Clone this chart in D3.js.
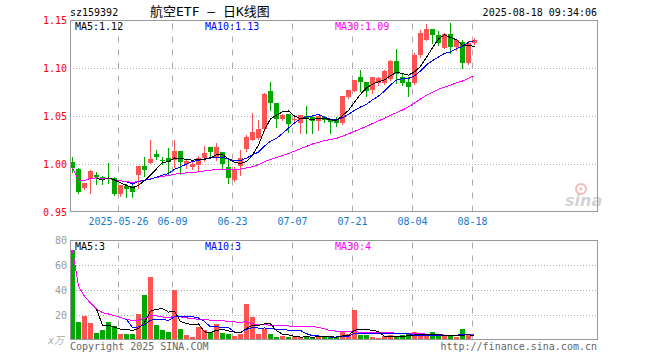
<!DOCTYPE html>
<html><head><meta charset="utf-8">
<script src="https://cdn.jsdelivr.net/npm/d3@7"></script>
<style>
body{margin:0;background:#fff}
svg{display:block}
text{font-family:"DejaVu Sans Mono",monospace;font-size:10px}
</style>
</head><body>
<svg id="c" width="660" height="360"></svg>
<script>
// ---------- data ----------
const dates = [
"2025-05-14","2025-05-15","2025-05-16","2025-05-19","2025-05-20","2025-05-21","2025-05-22","2025-05-23",
"2025-05-26","2025-05-27","2025-05-28","2025-05-29","2025-05-30","2025-06-03","2025-06-04","2025-06-05","2025-06-06",
"2025-06-09","2025-06-10","2025-06-11","2025-06-12","2025-06-13","2025-06-16","2025-06-17","2025-06-18","2025-06-19","2025-06-20",
"2025-06-23","2025-06-24","2025-06-25","2025-06-26","2025-06-27","2025-06-30","2025-07-01","2025-07-02","2025-07-03","2025-07-04",
"2025-07-07","2025-07-08","2025-07-09","2025-07-10","2025-07-11","2025-07-14","2025-07-15","2025-07-16","2025-07-17","2025-07-18",
"2025-07-21","2025-07-22","2025-07-23","2025-07-24","2025-07-25","2025-07-28","2025-07-29","2025-07-30","2025-07-31","2025-08-01",
"2025-08-04","2025-08-05","2025-08-06","2025-08-07","2025-08-08","2025-08-11","2025-08-12","2025-08-13","2025-08-14","2025-08-15",
"2025-08-18"];
const opens = [1.002,0.995,0.9757,0.9844,0.989,0.987,0.986,0.986,0.969,0.977,0.9774,0.9889,0.998,1.001,1.011,1.0047,1.007,1.0045,1.0139,1.000,
0.997,0.9993,1.007,1.018,1.008,1.0125,0.9976,0.9837,0.9986,1.0156,1.025,1.027,1.0364,1.0763,1.0638,1.0468,1.0524,1.046,1.0427,1.0507,
1.049,1.0451,1.0496,1.047,1.046,1.0427,1.0698,1.0763,1.0906,1.0857,1.0774,1.0843,1.085,1.0885,1.108,1.0906,1.086,1.0843,1.114,1.130,
1.141,1.135,1.1215,1.136,1.1225,1.1278,1.105,1.1267];
const closes = [0.996,0.9715,0.981,0.9934,0.987,0.984,0.985,0.969,0.978,0.974,0.9715,0.998,0.994,1.0056,1.0075,1.0042,1.002,1.0139,1.0025,1.003,
1.000,1.007,1.012,1.013,1.018,1.000,0.9854,0.994,1.0065,1.028,1.034,1.037,1.0732,1.0642,1.0472,1.0514,1.0416,1.047,1.051,1.0472,
1.045,1.0503,1.046,1.0437,1.0427,1.0711,1.0774,1.0878,1.0857,1.0763,1.0906,1.0895,1.0972,1.108,1.094,1.0843,1.081,1.114,1.1365,1.141,
1.135,1.126,1.136,1.1225,1.129,1.106,1.126,1.1295];
const highs = [1.008,0.996,0.981,0.994,0.992,0.988,1.001,0.987,0.978,0.979,0.980,0.998,1.008,1.025,1.015,1.008,1.017,1.025,1.014,1.006,
1.002,1.009,1.019,1.018,1.022,1.013,1.006,0.997,1.015,1.031,1.053,1.046,1.074,1.0857,1.064,1.052,1.0524,1.050,1.051,1.0607,
1.050,1.0503,1.050,1.047,1.0496,1.0711,1.0774,1.0878,1.0982,1.0857,1.0906,1.091,1.098,1.109,1.1197,1.0937,1.091,1.116,1.140,1.146,
1.141,1.139,1.137,1.147,1.131,1.130,1.128,1.132];
const lows = [0.992,0.970,0.974,0.970,0.980,0.979,0.981,0.968,0.967,0.966,0.966,0.975,0.988,1.001,1.006,1.000,0.989,0.9976,0.990,0.996,
0.995,0.994,1.003,1.008,1.004,0.9965,0.981,0.983,0.989,1.014,1.025,1.026,1.035,1.0566,1.0385,1.046,1.034,1.043,1.0323,1.0323,
1.033,1.0357,1.044,1.033,1.040,1.0415,1.069,1.0763,1.0763,1.0711,1.0746,1.083,1.084,1.088,1.0843,1.0826,1.071,1.084,1.112,1.129,
1.126,1.124,1.121,1.1155,1.119,1.1007,1.104,1.1256];
const volumes = [72,14.4,19.2,13.6,5.6,8,14.4,11.2,4.8,4.8,4.8,20.8,36,50.4,12,8,6.4,40,8.8,4,
2.4,10.4,8,6.4,12.8,5.6,4.8,3.2,4.8,28.8,18.4,4.8,8.8,4.8,2.4,3.2,2.4,2.4,2.4,3.2,
2.4,3.2,2.4,2.4,2.4,7.2,4.8,24,4,4,2.4,1.6,3.2,4,2.4,4,4.8,6.4,4,3.2,
6.4,3.2,3.2,3.2,2.4,8.8,4,0.8];
const tickDates = ["2025-05-26","2025-06-09","2025-06-23","2025-07-07","2025-07-21","2025-08-04","2025-08-18"];
const tickLabels = ["2025-05-26","06-09","06-23","07-07","07-21","08-04","08-18"];
const priceTicks = [0.95,1.00,1.05,1.10,1.15];
const priceGrid = [1.00,1.05,1.10];
const volTicks = [20,40,60,80];
const volGrid = [20,40,60];
const code = "sz159392";
const title = "航空ETF — 日K线图";
const stamp = "2025-08-18 09:34:06";

// ---------- helpers ----------
function ma(arr, n, expanding){
  return arr.map((v,i)=>{
    if(!expanding && i < n-1) return null;
    const s = Math.max(0, i-n+1);
    return d3.mean(arr.slice(s, i+1));
  });
}
const UP = "#ff5252", DOWN = "#00a800";
const svg = d3.select("#c");
const L = 70, R = 597;
const pTop = 20, pBot = 211;
const vTop = 240, vBot = 339;

const x = d3.scalePoint().domain(dates).range([L, L + 6*(dates.length-1)]);
const yP = d3.scaleLinear().domain([0.95,1.15]).range([212.3, 20.3]);
const yV = d3.scaleLinear().domain([0,80]).range([340.3, 240.3]);
const cx = i => x(dates[i]) + 2.5;

// ---------- header ----------
svg.append("text").attr("x",70).attr("y",16).text(code);
svg.append("text").attr("x",150).attr("y",16)
  .style("font-family","'DejaVu Sans Mono','Noto Sans CJK SC',monospace").style("font-size","13px").text(title);
svg.append("text").attr("x",R).attr("y",16).attr("text-anchor","end").text(stamp);

// ---------- price panel ----------
svg.selectAll("line.hg").data(priceGrid).join("line")
  .attr("x1",L).attr("x2",R).attr("y1",d=>Math.round(yP(d))+0.5).attr("y2",d=>Math.round(yP(d))+0.5)
  .attr("stroke","#aaa").attr("stroke-dasharray","1,2");
const xAxisP = d3.axisBottom(x).tickValues(tickDates).tickFormat((d,i)=>tickLabels[i])
  .tickSizeInner(-(pBot-pTop)).tickSizeOuter(0).tickPadding(6);
const gxa = svg.append("g").attr("transform",`translate(0,${pBot+0.5})`).call(xAxisP);
gxa.select(".domain").remove();
gxa.selectAll(".tick line").attr("stroke","#aaa").attr("stroke-dasharray","6,7");
gxa.selectAll(".tick text").attr("fill","#1478cc").style("font-family","'DejaVu Sans Mono',monospace").style("font-size","10px");

const yAxisP = d3.axisLeft(yP).tickValues(priceTicks).tickFormat(d3.format(".2f")).tickSize(0).tickPadding(3);
const gya = svg.append("g").attr("transform",`translate(${L},0)`).call(yAxisP);
gya.select(".domain").remove();
gya.selectAll(".tick text").attr("fill","#ff0000").style("font-family","'DejaVu Sans Mono',monospace").style("font-size","10px");

// candles
const idx = d3.range(dates.length);
const cg = svg.append("g");
cg.selectAll("line.wick").data(idx).join("line")
  .attr("x1",cx).attr("x2",cx)
  .attr("y1",i=>Math.round(yP(highs[i]))).attr("y2",i=>Math.round(yP(lows[i]))+1)
  .attr("stroke",i=>closes[i]>=opens[i]?UP:DOWN).attr("stroke-width",1);
cg.selectAll("rect.body").data(idx).join("rect")
  .attr("x",i=>x(dates[i])).attr("width",5)
  .attr("y",i=>Math.round(yP(Math.max(opens[i],closes[i]))))
  .attr("height",i=>Math.max(1,Math.round(yP(Math.min(opens[i],closes[i])))-Math.round(yP(Math.max(opens[i],closes[i])))))
  .attr("fill",i=>closes[i]>=opens[i]?UP:DOWN);

// MA lines price
const pma5 = ma(closes,5,false), pma10 = ma(closes,10,false), pma30 = ma(closes,30,true);
const lineP = arr => d3.line().defined(i=>arr[i]!=null).x(cx).y(i=>yP(arr[i]))(idx);
[[pma30,"#ff00ff"],[pma10,"#0000ff"],[pma5,"#000000"]].forEach(([a,c])=>{
  svg.append("path").attr("d",lineP(a)).attr("fill","none").attr("stroke",c).attr("stroke-width",1)
    .attr("shape-rendering","crispEdges");
});

// frame
svg.append("rect").attr("x",L+0.5).attr("y",pTop+0.5).attr("width",R-L).attr("height",pBot-pTop)
  .attr("fill","none").attr("stroke","#999");

// legend
const last = dates.length-1;
const f2 = d3.format(".2f");
svg.append("text").attr("x",75).attr("y",30).attr("fill","#000").text("MA5:"+f2(pma5[last]));
svg.append("text").attr("x",205).attr("y",30).attr("fill","#0000ff").text("MA10:"+f2(pma10[last]));
svg.append("text").attr("x",335).attr("y",30).attr("fill","#ff00ff").text("MA30:"+f2(pma30[last]));

// sina watermark
const wm = svg.append("g").attr("opacity",0.55);
wm.append("circle").attr("cx",581).attr("cy",189).attr("r",5).attr("fill","none").attr("stroke","#f08080").attr("stroke-width",2);
wm.append("circle").attr("cx",581).attr("cy",189).attr("r",1.5).attr("fill","#f08080");
wm.append("text").attr("x",565).attr("y",206).style("font-family","'DejaVu Sans',sans-serif")
  .style("font-size","16px").style("font-style","italic").style("font-weight","bold").attr("fill","#b0b0b0").text("sina");

// ---------- volume panel ----------
svg.selectAll("line.vg").data(volGrid).join("line")
  .attr("x1",L).attr("x2",R).attr("y1",d=>Math.round(yV(d))+0.5).attr("y2",d=>Math.round(yV(d))+0.5)
  .attr("stroke","#aaa").attr("stroke-dasharray","1,2");
const xAxisV = d3.axisBottom(x).tickValues(tickDates).tickFormat("").tickSizeInner(-(vBot-vTop)).tickSizeOuter(0);
const gxv = svg.append("g").attr("transform",`translate(0,${vBot+0.5})`).call(xAxisV);
gxv.select(".domain").remove();
gxv.selectAll(".tick line").attr("stroke","#aaa").attr("stroke-dasharray","6,7");

const yAxisV = d3.axisLeft(yV).tickValues(volTicks).tickFormat(d3.format("d")).tickSize(0).tickPadding(3);
const gyv = svg.append("g").attr("transform",`translate(${L},0)`).call(yAxisV);
gyv.select(".domain").remove();
gyv.selectAll(".tick text").attr("fill","#999").style("font-family","'DejaVu Sans Mono',monospace").style("font-size","10px");
svg.append("text").attr("x",64).attr("y",344).attr("text-anchor","end").attr("fill","#aaa")
  .style("font-style","italic").style("font-family","'DejaVu Sans Mono','Noto Sans CJK SC',monospace").text("x万");

svg.append("g").selectAll("rect").data(idx).join("rect")
  .attr("x",i=>x(dates[i])).attr("width",5)
  .attr("y",i=>Math.round(yV(volumes[i])))
  .attr("height",i=>vBot-Math.round(yV(volumes[i])))
  .attr("fill",i=>closes[i]>=opens[i]?UP:DOWN);

const vma5 = ma(volumes,5,false), vma10 = ma(volumes,10,false), vma30 = ma(volumes,30,true);
const lineV = arr => d3.line().defined(i=>arr[i]!=null).x(cx).y(i=>yV(arr[i]))(idx);
[[vma30,"#ff00ff"],[vma10,"#0000ff"],[vma5,"#000000"]].forEach(([a,c])=>{
  svg.append("path").attr("d",lineV(a)).attr("fill","none").attr("stroke",c).attr("stroke-width",1)
    .attr("shape-rendering","crispEdges");
});

svg.append("rect").attr("x",L+0.5).attr("y",vTop+0.5).attr("width",R-L).attr("height",vBot-vTop)
  .attr("fill","none").attr("stroke","#999");

// Sina shows the volume MA values truncated to whole units
const fv = v => String(Math.floor(v));
svg.append("text").attr("x",75).attr("y",249.5).attr("fill","#000").text("MA5:"+fv(vma5[last]));
svg.append("text").attr("x",205).attr("y",249.5).attr("fill","#0000ff").text("MA10:"+fv(vma10[last]));
svg.append("text").attr("x",335).attr("y",249.5).attr("fill","#ff00ff").text("MA30:"+fv(vma30[last]));

// footer
svg.append("text").attr("x",70).attr("y",349.5).attr("fill","#666").text("Copyright 2025 SINA.COM");
svg.append("text").attr("x",R).attr("y",349.5).attr("text-anchor","end").attr("fill","#666").text("http://finance.sina.com.cn");
</script>
</body></html>
